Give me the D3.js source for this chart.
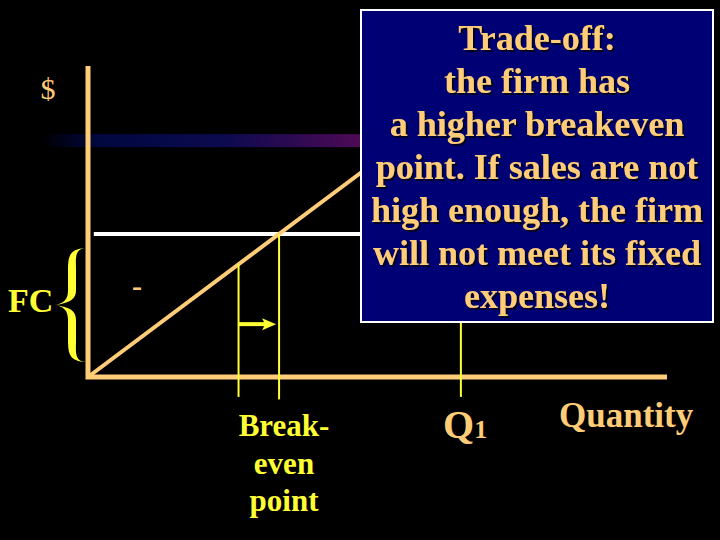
<!DOCTYPE html>
<html>
<head>
<meta charset="utf-8">
<script src="https://cdn.jsdelivr.net/npm/d3@7"></script>
<style>
  body { margin: 0; background: #000; }
  svg { display: block; }
</style>
</head>
<body>
<svg id="chart" width="720" height="540"></svg>
<script>
// values (quantity on x, dollars on y, both 0..100)
const fixedCost = 46;
const revenueSlope = 1.394;          // $ per unit of quantity
const oldBreakeven = 26;
const newBreakeven = 33;
const q1 = 64.4;
const priceBand = 76;                 // shaded band across the top
const boxLines = [
	'Trade-off:',
	'the firm has',
	'a higher breakeven',
	'point.  If sales are not',
	'high enough, the firm',
	'will not meet its fixed',
	'expenses!'
];
const breakevenLabel = ['Break-', 'even', 'point'];

const tan = '#ffcc77';
const yellow = '#ffff33';

const svg = d3.select('#chart');

const x = d3.scaleLinear().domain([0, 100]).range([88, 667]);
const y = d3.scaleLinear().domain([0, 100]).range([377, 66]);

const line = d3.line().x(d => x(d[0])).y(d => y(d[1]));

const defs = svg.append('defs');

// gradient band
const grad = defs.append('linearGradient')
	.attr('id', 'band')
	.attr('x1', '0%').attr('x2', '100%');
grad.selectAll('stop')
	.data([[0, '#000000'], [0.18, '#000840'], [0.55, '#0c0a50'], [1, '#560a56']])
	.enter()
	.append('stop')
	.attr('offset', d => d[0])
	.attr('stop-color', d => d[1]);

const shadow = defs.append('filter')
	.attr('id', 'shadow')
	.attr('x', '-5%').attr('y', '-10%')
	.attr('width', '115%').attr('height', '130%');
shadow.append('feDropShadow')
	.attr('dx', 2).attr('dy', 2)
	.attr('stdDeviation', 0.6)
	.attr('flood-color', '#000020')
	.attr('flood-opacity', 1);

svg.append('rect')
	.attr('x', x(-8.3))
	.attr('y', y(priceBand) - 6.5)
	.attr('width', x(50) - x(-8.3))
	.attr('height', 13)
	.attr('fill', 'url(#band)');

// fixed cost line
svg.append('path')
	.attr('d', line([[1, fixedCost], [50, fixedCost]]))
	.attr('stroke', '#ffffff')
	.attr('stroke-width', 4)
	.attr('fill', 'none');

// revenue line
svg.append('path')
	.attr('d', line([[0, 0], [50, 50 * revenueSlope]]))
	.attr('stroke', tan)
	.attr('stroke-width', 4)
	.attr('fill', 'none');

// axes
svg.append('path')
	.attr('d', line([[0, 100], [0, 0], [100, 0]]))
	.attr('stroke', tan)
	.attr('stroke-width', 5)
	.attr('fill', 'none');

// breakeven verticals
svg.append('path')
	.attr('d', line([[oldBreakeven, oldBreakeven * revenueSlope], [oldBreakeven, -6.4]]))
	.attr('stroke', yellow).attr('stroke-width', 2).attr('fill', 'none');
svg.append('path')
	.attr('d', line([[newBreakeven, fixedCost], [newBreakeven, -7.2]]))
	.attr('stroke', yellow).attr('stroke-width', 2).attr('fill', 'none');

// arrow
const ay = y(17);
svg.append('line')
	.attr('x1', x(oldBreakeven)).attr('x2', x(newBreakeven) - 10)
	.attr('y1', ay).attr('y2', ay)
	.attr('stroke', yellow).attr('stroke-width', 4);
svg.append('path')
	.attr('d', `M${x(newBreakeven) - 3},${ay} L${x(newBreakeven) - 17},${ay - 6} L${x(newBreakeven) - 14},${ay} L${x(newBreakeven) - 17},${ay + 6} Z`)
	.attr('fill', yellow);

// Q1 vertical
svg.append('path')
	.attr('d', line([[q1, 18], [q1, -6.4]]))
	.attr('stroke', yellow).attr('stroke-width', 2).attr('fill', 'none');

// brace marking the fixed cost span
const braceTop = y(fixedCost) + 14;
const braceBot = y(0) - 15;
const braceMid = (braceTop + braceBot) / 2;
const bR = x(0) - 2;     // right tips
const bO = bR - 10;      // outer side of arms
const bI = bR - 18;      // inner side of arms
const bP = bR - 31;      // point
const h = braceBot - braceTop;
const braceD = [
	`M${bR},${braceTop}`,
	`C${bO - 2},${braceTop + 1} ${bO},${braceTop + 0.09 * h} ${bO},${braceTop + 0.2 * h}`,
	`L${bO},${braceMid - 0.13 * h}`,
	`C${bO},${braceMid - 0.05 * h} ${bO - 6},${braceMid - 0.02 * h} ${bP},${braceMid}`,
	`C${bO - 6},${braceMid + 0.02 * h} ${bO},${braceMid + 0.05 * h} ${bO},${braceMid + 0.13 * h}`,
	`L${bO},${braceBot - 0.2 * h}`,
	`C${bO},${braceBot - 0.09 * h} ${bO - 2},${braceBot - 1} ${bR},${braceBot}`,
	`C${bI + 2},${braceBot - 1} ${bI},${braceBot - 0.06 * h} ${bI},${braceBot - 0.2 * h}`,
	`L${bI},${braceMid + 0.13 * h}`,
	`C${bI},${braceMid + 0.05 * h} ${bI - 4},${braceMid + 0.015 * h} ${bP},${braceMid}`,
	`C${bI - 4},${braceMid - 0.015 * h} ${bI},${braceMid - 0.05 * h} ${bI},${braceMid - 0.13 * h}`,
	`L${bI},${braceTop + 0.2 * h}`,
	`C${bI},${braceTop + 0.06 * h} ${bI + 2},${braceTop + 1} ${bR},${braceTop}`,
	'Z'
].join(' ');
svg.append('path')
	.attr('d', braceD)
	.attr('fill', yellow);

// text box
svg.append('rect')
	.attr('x', 361).attr('y', 10)
	.attr('width', 352).attr('height', 312)
	.attr('fill', '#000075')
	.attr('stroke', '#ffffff')
	.attr('stroke-width', 2);

const serif = '"Liberation Serif", "Times New Roman", serif';

svg.append('g')
	.attr('font-family', serif)
	.attr('font-weight', 'bold')
	.attr('font-size', 36)
	.attr('text-anchor', 'middle')
	.attr('filter', 'url(#shadow)')
	.style('white-space', 'pre')
	.selectAll('text')
	.data(boxLines)
	.enter()
	.append('text')
	.attr('x', 537)
	.attr('y', (d, i) => 50 + i * 43)
	.attr('fill', tan)
	.text(d => d);

// labels
svg.append('text')
	.attr('x', 48).attr('y', 99)
	.attr('text-anchor', 'middle')
	.attr('font-family', serif)
	.attr('font-size', 30)
	.attr('fill', tan)
	.text('$');

svg.append('text')
	.attr('x', 8).attr('y', 312)
	.attr('font-family', serif)
	.attr('font-weight', 'bold')
	.attr('font-size', 34)
	.attr('fill', yellow)
	.text('FC');

svg.append('text')
	.attr('x', 137).attr('y', 296)
	.attr('text-anchor', 'middle')
	.attr('font-family', serif)
	.attr('font-weight', 'bold')
	.attr('font-size', 30)
	.attr('fill', tan)
	.text('-');

svg.append('g')
	.selectAll('text')
	.data(breakevenLabel)
	.enter()
	.append('text')
	.attr('x', 284)
	.attr('y', (d, i) => 436 + i * 37.5)
	.attr('text-anchor', 'middle')
	.attr('font-family', serif)
	.attr('font-weight', 'bold')
	.attr('font-size', 31)
	.attr('fill', yellow)
	.text(d => d);

const qLabel = svg.append('text')
	.attr('x', 443).attr('y', 438)
	.attr('font-family', serif)
	.attr('font-weight', 'bold')
	.attr('fill', tan);
qLabel.append('tspan').attr('font-size', 40).text('Q');
qLabel.append('tspan').attr('font-size', 26).text('1');

svg.append('text')
	.attr('x', 559).attr('y', 427)
	.attr('font-family', serif)
	.attr('font-weight', 'bold')
	.attr('font-size', 35)
	.attr('fill', tan)
	.text('Quantity');
</script>
</body>
</html>
